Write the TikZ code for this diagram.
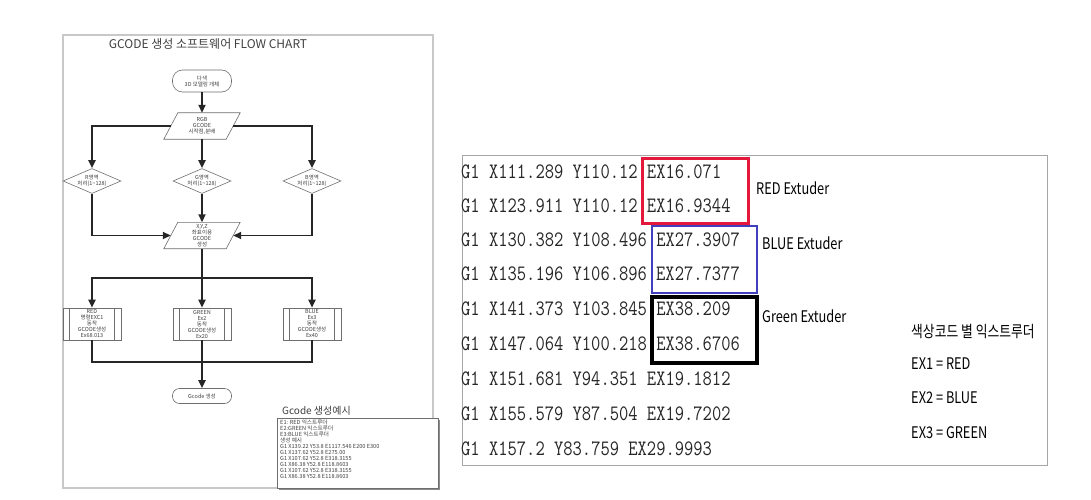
\documentclass[tikz,border=0pt]{standalone}
\usepackage{fontspec}
\newfontfamily\kr{Noto Sans CJK KR}
\newfontfamily\krn[FakeStretch=0.8]{Noto Sans CJK KR}
\newfontfamily\gmono[FakeStretch=0.82]{Latin Modern Mono}
\usetikzlibrary{shapes.geometric,arrows.meta}
\definecolor{redbox}{RGB}{228,24,58}
\definecolor{bluebox}{RGB}{64,64,190}
\definecolor{framegray}{RGB}{200,200,200}
\definecolor{shapegray}{RGB}{110,110,110}
\begin{document}
\begin{tikzpicture}[x=1pt,y=-1pt,
  tiny/.style={font=\kr\fontsize{5.5}{6}\selectfont, text=black!75, align=center},
  shp/.style={draw=shapegray, line width=0.6pt},
  term/.style={tiny, shp, fill=white, rectangle, rounded corners=10pt, minimum width=59pt, minimum height=22pt, inner sep=0pt},
  para/.style={tiny, minimum width=62pt, minimum height=26pt, inner sep=0pt},
  dia/.style={tiny, shp, fill=white, diamond, aspect=2.3, minimum width=58pt, minimum height=25pt, inner sep=0pt},
  proc/.style={tiny, shp, fill=white, rectangle, minimum width=58pt, minimum height=32pt, inner sep=0pt},
  wire/.style={line width=1.8pt, black!85},
  flow/.style={wire, -{Triangle[length=8pt,width=7pt]}},
  row/.style={anchor=west, inner sep=0pt, font=\gmono\fontsize{22}{22}\selectfont, text=black!85},
  lbl/.style={anchor=west, inner sep=0pt, font=\krn\fontsize{16}{16}\selectfont, text=black},
  exline/.style={anchor=north west, inner sep=0pt, align=left, font=\kr\fontsize{5.6}{6}\selectfont, text=black!75}
]
\useasboundingbox (0,0) rectangle (1091,500);
\fill[white] (0,0) rectangle (1091,500);

% ---------- left page ----------
\draw[framegray, line width=1.5pt] (63,35) rectangle (433,488);
\node[anchor=center, inner sep=0pt, font=\kr\fontsize{12}{12}\selectfont, text=black!75] (title) at (208,44) {GCODE 생성 소프트웨어 FLOW CHART};

\node[term] (start) at (202,81) {다색\\3D 모델링 개체};
\node[para] (p1) at (202,126) {RGB\\GCODE\\시작점,분배};
\node[dia] (d1) at (92,181) {R영역\\처리(1\textasciitilde128)};
\node[dia] (d2) at (202,181) {G영역\\처리(1\textasciitilde128)};
\node[dia] (d3) at (312,181) {B영역\\처리(1\textasciitilde128)};
\node[para] (p2) at (202,235.5) {X,Y,Z\\좌표이용\\GCODE\\생성};
\coordinate (s1) at (202,278);
\node[proc] (b1) at (92,324) {RED\\명령EXC1\\동작\\GCODE생성\\Ex68.013};
\node[proc] (b2) at (202,324) {GREEN\\Ex2\\동작\\GCODE생성\\Ex20};
\node[proc] (b3) at (312,324) {BLUE\\Ex3\\동작\\GCODE생성\\Ex40};
\coordinate (m1) at (202,362);
\node[term, rounded corners=7pt, minimum height=15pt] (end) at (202,396) {Gcode 생성};

\foreach \p in {p1,p2}{
  \draw[shp] ([xshift=7pt]\p.north west) -- ([xshift=7pt]\p.north east) -- ([xshift=-7pt]\p.south east) -- ([xshift=-7pt]\p.south west) -- cycle;
}
\foreach \b in {b1,b2,b3}{
  \draw[shp] ([xshift=7pt]\b.north west) -- ([xshift=7pt]\b.south west);
  \draw[shp] ([xshift=-7pt]\b.north east) -- ([xshift=-7pt]\b.south east);
}

\draw[flow] (start) -- (p1);
\draw[flow] (p1.west) -| (d1);
\draw[flow] (p1) -- (d2);
\draw[flow] (p1.east) -| (d3);
\draw[flow] (d1) |- (p2.west);
\draw[flow] (d2) -- (p2);
\draw[flow] (d3) |- (p2.east);
\draw[flow] (p2) -- (b2);
\draw[flow] (s1) -| (b1);
\draw[flow] (s1) -| (b3);
\draw[wire] (b1) |- (m1);
\draw[wire] (b3) |- (m1);
\draw[flow] (b2) -- (end);

% Gcode example box
\node[anchor=west, inner sep=0pt, font=\kr\fontsize{10}{10}\selectfont, text=black!75] (extitle) at (282,411) {Gcode 생성예시};
\fill[black!45] (279,420) rectangle (440,490);
\draw[shapegray, line width=0.6pt, fill=white] (277,418) rectangle (438,488);
\node[exline] (ex) at (280,420) {E1: RED 익스트루더\\E2:GREEN 익스트루더\\E3:BLUE 익스트루더\\생성 예시\\G1 X139.22 Y53.8 E1117.546 E200 E300\\G1 X137.62 Y52.8 E275.00\\G1 X107.62 Y52.8 E318.3155\\G1 X86.38 Y52.8 E118.8603\\G1 X107.62 Y52.8 E318.3155\\G1 X86.38 Y52.8 E118.8603};

% ---------- right panel ----------
\draw[black!35, line width=0.8pt] (462,155) rectangle (1047,465);
\node[row] (r1) at (461,172) {G1 X111.289 Y110.12 EX16.071};
\node[row] (r2) at (461,206) {G1 X123.911 Y110.12 EX16.9344};
\node[row] (r3) at (461,240) {G1 X130.382 Y108.496 EX27.3907};
\node[row] (r4) at (461,274) {G1 X135.196 Y106.896 EX27.7377};
\node[row] (r5) at (461,309) {G1 X141.373 Y103.845 EX38.209};
\node[row] (r6) at (461,344) {G1 X147.064 Y100.218 EX38.6706};
\node[row] (r7) at (461,379) {G1 X151.681 Y94.351 EX19.1812};
\node[row] (r8) at (461,414) {G1 X155.579 Y87.504 EX19.7202};
\node[row] (r9) at (461,449) {G1 X157.2 Y83.759 EX29.9993};

\draw[redbox, line width=3pt] (642,158) rectangle (748,223);
\draw[bluebox, line width=2.5pt] (652,226) rectangle (757,293);
\draw[black, line width=3.5pt] (652,297) rectangle (757,363);

\node[lbl] (lr) at (756,188) {RED Extuder};
\node[lbl] (lb) at (762,243) {BLUE Extuder};
\node[lbl] (lg) at (762,316) {Green Extuder};

\node[lbl] (k0) at (911,332) {색상코드 별 익스트루더};
\node[lbl] (k1) at (911,364) {EX1 = RED};
\node[lbl] (k2) at (911,398) {EX2 = BLUE};
\node[lbl] (k3) at (911,433) {EX3 = GREEN};
\end{tikzpicture}
\end{document}
